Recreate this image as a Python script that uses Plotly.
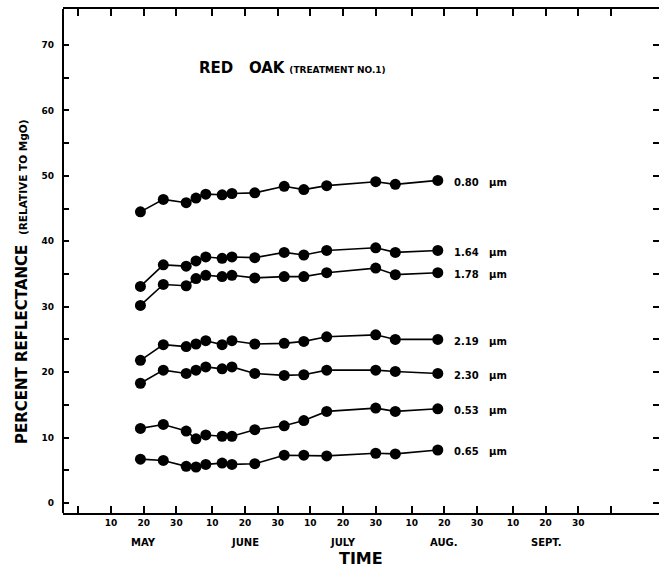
import plotly.graph_objects as go

# sample dates as day-of-year (May 19 ... Aug 18)
sample_day = [139, 146, 153, 156, 159, 164, 167, 174, 183, 189, 196, 211, 217, 230]

wavelengths = ["0.80", "1.64", "1.78", "2.19", "2.30", "0.53", "0.65"]
r_080 = [44.5, 46.4, 45.9, 46.6, 47.2, 47.1, 47.3, 47.4, 48.4, 47.9, 48.5, 49.1, 48.7, 49.3]
r_164 = [33.1, 36.4, 36.2, 37.0, 37.6, 37.4, 37.6, 37.5, 38.3, 37.9, 38.6, 39.0, 38.3, 38.6]
r_178 = [30.2, 33.4, 33.2, 34.3, 34.8, 34.6, 34.8, 34.4, 34.6, 34.6, 35.2, 35.9, 34.9, 35.2]
r_219 = [21.8, 24.2, 23.9, 24.3, 24.8, 24.2, 24.8, 24.3, 24.4, 24.7, 25.4, 25.7, 25.0, 25.0]
r_230 = [18.3, 20.3, 19.8, 20.3, 20.8, 20.5, 20.8, 19.8, 19.5, 19.6, 20.3, 20.3, 20.1, 19.8]
r_053 = [11.4, 12.0, 11.0, 9.8, 10.4, 10.2, 10.2, 11.2, 11.8, 12.6, 14.0, 14.5, 14.0, 14.4]
r_065 = [6.7, 6.5, 5.6, 5.5, 5.9, 6.1, 5.9, 6.0, 7.3, 7.3, 7.2, 7.6, 7.5, 8.1]
series = [r_080, r_164, r_178, r_219, r_230, r_053, r_065]

x_tick_days = [120, 130, 140, 150, 161, 171, 181, 191, 201, 211, 222, 232, 242, 253, 263, 273, 283]
x_tick_text = ["", "10", "20", "30", "10", "20", "30", "10", "20", "30", "10", "20", "30", "10", "20", "30", ""]
month_names = ["MAY", "JUNE", "JULY", "AUG.", "SEPT."]
month_days = [140, 171, 201, 232, 263]

y_tick_vals = [0, 5, 10, 15, 20, 25, 30, 35, 40, 45, 50, 55, 60, 65, 70]
y_tick_text = ["0", "", "10", "", "20", "", "30", "", "40", "", "50", "", "60", "", "70"]

FONT = "DejaVu Sans"

fig = go.Figure()
for wl, vals in zip(wavelengths, series):
    fig.add_trace(go.Scatter(
        x=sample_day, y=vals, mode="lines+markers",
        line=dict(color="black", width=1.6),
        marker=dict(color="black", size=11),
        showlegend=False, name=wl + " µm",
    ))

annotations = []
for wl, vals in zip(wavelengths, series):
    annotations.append(dict(
        x=sample_day[-1], y=vals[-1], xref="x", yref="y",
        text=f"<b>{wl}&nbsp;&nbsp;&nbsp;µm</b>", showarrow=False,
        xanchor="left", yanchor="middle", xshift=14, yshift=-2,
        font=dict(family=FONT, size=10, color="black"),
    ))
for m, d in zip(month_names, month_days):
    annotations.append(dict(
        x=d, y=0, xref="x", yref="paper", yshift=-29,
        text=f"<b>{m}</b>", showarrow=False, xanchor="center", yanchor="middle",
        font=dict(family=FONT, size=10, color="black"),
    ))
annotations.append(dict(
    x=0.5, y=0, xref="paper", yref="paper", yshift=-45,
    text="<b>TIME</b>", showarrow=False, xanchor="center", yanchor="middle",
    font=dict(family=FONT, size=16, color="black"),
))
annotations.append(dict(
    x=0.225, y=66.5, xref="paper", yref="y",
    text="<b>RED&nbsp;&nbsp;&nbsp;OAK</b> <span style='font-size:9px'><b>(TREATMENT NO.1)</b></span>",
    showarrow=False, xanchor="left", yanchor="middle",
    font=dict(family=FONT, size=15, color="black"),
))
annotations.append(dict(
    x=-0.069, y=0.458, xref="paper", yref="paper",
    text="<b>PERCENT REFLECTANCE</b>  <span style='font-size:10.5px'><b>(RELATIVE TO MgO)</b></span>",
    showarrow=False, textangle=-90, xanchor="center", yanchor="middle",
    font=dict(family=FONT, size=15, color="black"),
))

fig.update_layout(
    width=660, height=571,
    margin=dict(l=63, r=1, t=9, b=58),
    paper_bgcolor="white", plot_bgcolor="white",
    annotations=annotations,
    shapes=[dict(type="line", xref="paper", yref="paper", x0=0, x1=0, y0=0, y1=1,
                 line=dict(color="black", width=2))],
    xaxis=dict(
        range=[115.3, 297.7], tickmode="array", tickvals=x_tick_days, ticktext=x_tick_text,
        ticks="inside", ticklen=7, tickwidth=1.5, tickcolor="black",
        showline=True, linecolor="black", linewidth=2, mirror="ticks",
        showgrid=False, zeroline=False,
        tickfont=dict(family=FONT, size=9, color="black", weight="bold"),
    ),
    yaxis=dict(
        range=[-1.53, 75.5], tickmode="array", tickvals=y_tick_vals, ticktext=y_tick_text,
        ticks="inside", ticklen=6, tickwidth=1.5, tickcolor="black",
        showline=False, mirror="ticks",
        showgrid=False, zeroline=False, ticklabelstandoff=8,
        tickfont=dict(family=FONT, size=9, color="black", weight="bold"),
    ),
)

fig.write_html("out.html")
